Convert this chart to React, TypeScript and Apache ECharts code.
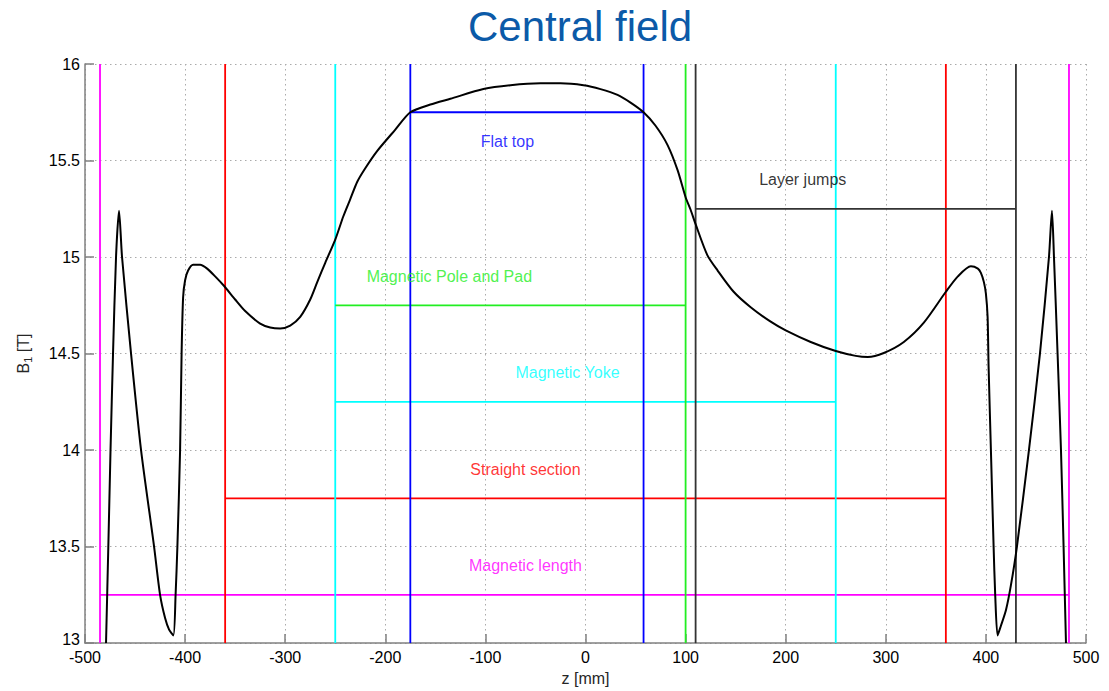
import React, { useEffect, useRef } from "react";
import * as echarts from "echarts";

// Field profile B1 [T] along z [mm]
const curveZ = [
  -479, -476.7, -474.5, -472, -469, -466, -463, -454, -444, -431, -425, -420, -416, -411.7,
  -409.5, -407.7, -405, -403.5, -402, -400, -397, -392, -385, -378, -370, -361, -350, -340,
  -325, -315, -305, -295, -285, -275, -268, -260, -250, -242, -235, -228, -220, -208, -190, -175,
  -155, -135, -102, -75, -45, -25, -2, 15, 32, 45, 58, 70, 82, 92, 100, 105, 110, 121.7, 132,
  148, 165, 185, 200, 225, 250, 270, 282, 298, 318, 338, 360, 372, 385, 392, 395, 398,
  400, 401.7, 402.7, 405, 407.7, 409.3, 411.7, 415, 420, 425, 431, 443, 454, 463, 466, 468, 471.6,
  475, 477.6, 480,
];
const curveB = [
  13.0, 13.5, 14.0, 14.5, 15.0, 15.24, 15.0, 14.5, 14.0, 13.5, 13.25, 13.13, 13.07, 13.04,
  13.25, 13.5, 14.0, 14.5, 14.79, 14.88, 14.93, 14.96, 14.96, 14.94, 14.9, 14.85, 14.78, 14.72,
  14.655, 14.635, 14.63, 14.645, 14.69, 14.78, 14.87, 14.97, 15.09, 15.21, 15.3, 15.39, 15.46, 15.55,
  15.66, 15.75, 15.79, 15.82, 15.87, 15.89, 15.9, 15.9, 15.89, 15.87, 15.84, 15.8, 15.75, 15.68,
  15.58, 15.45, 15.31, 15.245, 15.17, 15.01, 14.93,
  14.82, 14.74, 14.665, 14.62, 14.56, 14.513, 14.488, 14.482, 14.503, 14.56, 14.66, 14.82, 14.9, 14.952, 14.94, 14.918, 14.87,
  14.81, 14.69, 14.43, 14.0, 13.5, 13.25, 13.04, 13.09, 13.17, 13.3, 13.5, 14.0, 14.5, 15.0, 15.24, 15.0, 14.5,
  14.0, 13.5, 13.0,
];

// Region brackets
const bracketNames = ["Magnetic length", "Straight section", "Magnetic Yoke", "Magnetic Pole and Pad", "Flat top", "Layer jumps"];
const bracketColors = ["#ff00ff", "#ff0000", "#00ffff", "#22ee22", "#0000ff", "#333333"];
const bracketLeft = [-485, -360, -250, -250, -175, 110];
const bracketRight = [483, 360, 250, 100, 58, 430];
const bracketLevel = [13.25, 13.75, 14.25, 14.75, 15.75, 15.25];
const bracketDrawLeft = [true, true, true, false, true, true];
const labelZ = [-60, -60, -18, -136, -78, 217];
const labelB = [13.4, 13.9, 14.4, 14.9, 15.6, 15.4];
const labelColors = ["#ff00ff", "#ff0000", "#00ffff", "#22ee22", "#0000ff", "#000000"];

const xTicks = { min: -500, max: 500, interval: 100 };
const yTicks = { min: 13, max: 16, interval: 0.5 };

const FONT = "'Liberation Sans', Arial, sans-serif";

export default function App() {
  const ref = useRef<HTMLDivElement>(null);
  useEffect(() => {
    if (!ref.current) return;
    const chart = echarts.init(ref.current, undefined, { renderer: "svg" });
    const series: any[] = [];
    bracketNames.forEach((n, i) => {
      const style = { color: bracketColors[i], width: 1.8 };
      const segs: number[][][] = [];
      if (bracketDrawLeft[i]) segs.push([[bracketLeft[i], yTicks.min], [bracketLeft[i], yTicks.max]]);
      segs.push([[bracketRight[i], yTicks.min], [bracketRight[i], yTicks.max]]);
      segs.push([[bracketLeft[i], bracketLevel[i]], [bracketRight[i], bracketLevel[i]]]);
      segs.forEach((s) => {
        series.push({
          type: "line",
          data: s,
          symbol: "none",
          lineStyle: style,
          silent: true,
        });
      });
    });
    series.push({
      type: "line",
      data: curveZ.map((z, i) => [z, curveB[i]]),
      symbol: "none",
      smooth: 0.25,
      lineStyle: { color: "#000", width: 2 },
      z: 5,
    });
    series.push({
      type: "scatter",
      symbolSize: 0,
      itemStyle: { color: "transparent" },
      data: bracketNames.map((n, i) => ({
        value: [labelZ[i], labelB[i]],
        name: n,
        label: { color: labelColors[i] },
      })),
      label: {
        show: true,
        position: "inside",
        formatter: (p: any) => p.name,
        fontSize: 16,
        fontFamily: FONT,
      },
      z: 6,
    });

    chart.setOption({
      animation: false,
      backgroundColor: "#ffffff",
      title: {
        text: "Central field",
        left: 463,
        top: 0,
        textStyle: { color: "#0b5aa8", fontSize: 42, fontWeight: "normal", fontFamily: FONT },
      },
      grid: { left: 85, top: 64, width: 1001, height: 585, containLabel: false },
      xAxis: {
        type: "value",
        min: xTicks.min,
        max: xTicks.max,
        interval: xTicks.interval,
        name: "z [mm]",
        nameLocation: "middle",
        nameGap: 24,
        nameTextStyle: { color: "#262626", fontSize: 16, fontFamily: FONT },
        axisLine: { onZero: false, lineStyle: { color: "#808080", width: 1.5 } },
        axisTick: { inside: true, length: 9, lineStyle: { color: "#808080", width: 1.5 } },
        axisLabel: { color: "#000", fontSize: 16, fontFamily: FONT, margin: 6 },
        splitLine: { show: true, lineStyle: { color: "#aaaaaa", type: [1.5, 3.5], width: 1 } },
      },
      yAxis: {
        type: "value",
        min: yTicks.min,
        max: yTicks.max,
        interval: yTicks.interval,
        name: "{a|B}{b|1}{a| [T]}",
        nameLocation: "middle",
        nameRotate: 90,
        nameGap: 52,
        nameTextStyle: {
          color: "#262626",
          fontSize: 16,
          fontFamily: FONT,
          rich: {
            a: { fontSize: 16, fontFamily: FONT, color: "#262626", lineHeight: 20 },
            b: { fontSize: 11, fontFamily: FONT, color: "#262626", lineHeight: 20, verticalAlign: "bottom", padding: [8, 0, 0, 0] },
          },
        },
        axisLine: { show: true, onZero: false, lineStyle: { color: "#808080", width: 1.5 } },
        axisTick: { show: true, inside: true, length: 9, lineStyle: { color: "#808080", width: 1.5 } },
        axisLabel: {
          color: "#000",
          fontSize: 16,
          fontFamily: FONT,
          margin: 5,
          formatter: (v: number) => (v === yTicks.min ? "{u|" + v + "}" : String(v)),
          rich: { u: { fontSize: 16, fontFamily: FONT, color: "#000", padding: [0, 0, 7, 0] } },
        },
        splitLine: { show: true, lineStyle: { color: "#aaaaaa", type: [1.5, 3.5], width: 1 } },
      },
      series,
    });
    return () => chart.dispose();
  }, []);
  return (
    <div
      ref={ref}
      style={{ position: "fixed", left: 0, top: 0, width: 1109, height: 691, background: "#fff" }}
    />
  );
}
